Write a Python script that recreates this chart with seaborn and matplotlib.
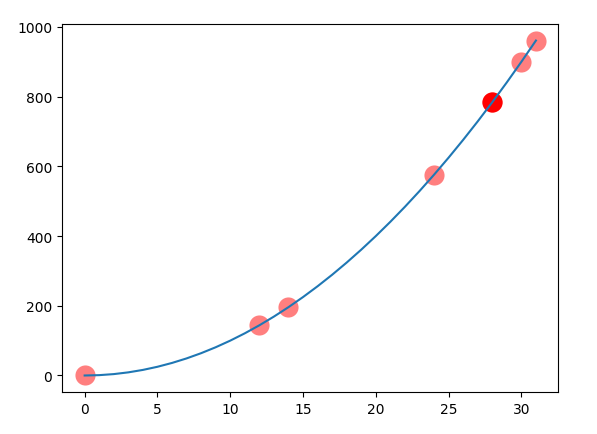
import matplotlib
matplotlib.use("Agg")
import matplotlib.pyplot as plt
import seaborn as sns

# fitted curve
curve_x = [0, 1, 2, 3, 4, 5, 6, 7, 8, 9, 10, 11, 12, 13, 14, 15,
           16, 17, 18, 19, 20, 21, 22, 23, 24, 25, 26, 27, 28, 29, 30, 31]
curve_y = [0, 1, 4, 9, 16, 25, 36, 49, 64, 81, 100, 121, 144, 169, 196, 225,
           256, 289, 324, 361, 400, 441, 484, 529, 576, 625, 676, 729, 784, 841, 900, 961]

# sample points
point_x = [0, 12, 14, 24, 28, 30, 31]
point_y = [0, 144, 196, 576, 784, 900, 961]

# highlighted point
hi_x = [28]
hi_y = [784]

fig, ax = plt.subplots(figsize=(5.97, 4.35), dpi=100)
fig.subplots_adjust(left=0.104, right=0.9355, top=0.943, bottom=0.096)

sns.scatterplot(x=point_x, y=point_y, ax=ax, color="red", alpha=0.5, s=210,
                linewidth=0, zorder=1)
sns.scatterplot(x=hi_x, y=hi_y, ax=ax, color="red", s=210, linewidth=0, zorder=1)
sns.lineplot(x=curve_x, y=curve_y, ax=ax, color="#1f77b4", zorder=2)

ax.set_xticks([0, 5, 10, 15, 20, 25, 30])
ax.set_yticks([0, 200, 400, 600, 800, 1000])

fig.savefig("out.png", dpi=100)
